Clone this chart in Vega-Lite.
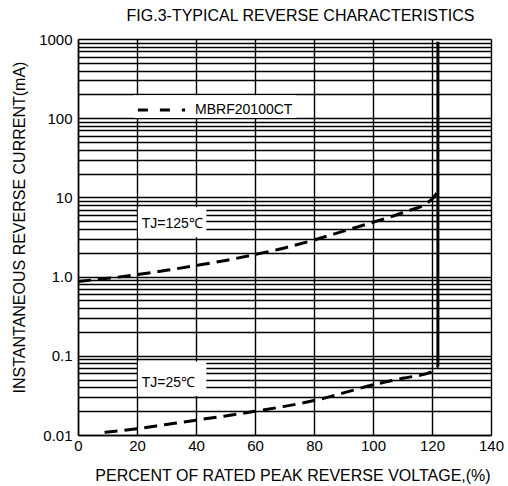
{
  "$schema": "https://vega.github.io/schema/vega-lite/v6.json",
  "width": 413,
  "height": 396,
  "autosize": "none",
  "padding": {"left": 78, "top": 39, "right": 17, "bottom": 51},
  "background": "white",
  "config": {
    "view": {"stroke": null},
    "font": "Liberation Sans",
    "axis": {"labelFont": "Liberation Sans", "titleFont": "Liberation Sans", "labelColor": "#000", "titleColor": "#000", "titleFontWeight": "normal"}
  },
  "title": {
    "text": "FIG.3-TYPICAL REVERSE CHARACTERISTICS",
    "font": "Liberation Sans",
    "fontSize": 16,
    "fontWeight": "normal",
    "color": "#000",
    "anchor": "middle",
    "dx": 16,
    "offset": 8
  },
  "datasets": {
    "curves": [
      {"series": "125", "x": 0, "y": 0.87},
      {"series": "125", "x": 10, "y": 0.95},
      {"series": "125", "x": 20, "y": 1.06},
      {"series": "125", "x": 30, "y": 1.2},
      {"series": "125", "x": 40, "y": 1.38},
      {"series": "125", "x": 50, "y": 1.6},
      {"series": "125", "x": 60, "y": 1.9},
      {"series": "125", "x": 70, "y": 2.3},
      {"series": "125", "x": 80, "y": 2.9},
      {"series": "125", "x": 90, "y": 3.75},
      {"series": "125", "x": 100, "y": 4.85},
      {"series": "125", "x": 110, "y": 6.4},
      {"series": "125", "x": 120, "y": 9.5},
      {"series": "125", "x": 122, "y": 11.9},
      {"series": "25", "x": 9, "y": 0.0108},
      {"series": "25", "x": 20, "y": 0.012},
      {"series": "25", "x": 30, "y": 0.0136},
      {"series": "25", "x": 40, "y": 0.0154},
      {"series": "25", "x": 50, "y": 0.0174},
      {"series": "25", "x": 60, "y": 0.0199},
      {"series": "25", "x": 70, "y": 0.023},
      {"series": "25", "x": 80, "y": 0.0272},
      {"series": "25", "x": 90, "y": 0.034},
      {"series": "25", "x": 100, "y": 0.043},
      {"series": "25", "x": 110, "y": 0.052},
      {"series": "25", "x": 120, "y": 0.063},
      {"series": "25", "x": 122, "y": 0.073}
    ],
    "vertical": [{"x": 122, "y": 0.073, "y2": 920}],
    "boxes": [
      {"x": 19, "x2": 74, "y": 100.5, "y2": 195},
      {"x": 20.3, "x2": 43.5, "y": 3.15, "y2": 7.5},
      {"x": 20.3, "x2": 43.5, "y": 0.031, "y2": 0.085}
    ],
    "legendline": [
      {"x": 20.3, "y": 127},
      {"x": 36.3, "y": 127}
    ],
    "labels": [
      {"x": 39.7, "y": 127, "text": "MBRF20100CT"},
      {"x": 21.6, "y": 4.55, "text": "TJ=125℃"},
      {"x": 21.6, "y": 0.0459, "text": "TJ=25℃"}
    ]
  },
  "encoding": {
    "x": {
      "field": "x",
      "type": "quantitative",
      "scale": {"domain": [0, 140], "nice": false, "zero": false},
      "axis": {
        "values": [0, 20, 40, 60, 80, 100, 120, 140],
        "grid": true,
        "gridColor": "#000",
        "gridWidth": 1.4,
        "gridOpacity": 1,
        "ticks": false,
        "domainColor": "#000",
        "domainWidth": 1.5,
        "labelFontSize": 15,
        "labelPadding": 3,
        "labelFlush": false,
        "title": "PERCENT OF RATED PEAK REVERSE VOLTAGE,(%)",
        "titleFontSize": 16,
        "titleBaseline": "alphabetic",
        "titleX": 214.5,
        "titleY": 45
      }
    },
    "y": {
      "field": "y",
      "type": "quantitative",
      "scale": {"type": "log", "domain": [0.01, 1000], "nice": false},
      "axis": {
        "values": [0.01, 0.02, 0.03, 0.04, 0.05, 0.06, 0.07, 0.08, 0.09, 0.1, 0.2, 0.3, 0.4, 0.5, 0.6, 0.7, 0.8, 0.9, 1, 2, 3, 4, 5, 6, 7, 8, 9, 10, 20, 30, 40, 50, 60, 70, 80, 90, 100, 200, 300, 400, 500, 600, 700, 800, 900, 1000],
        "labelExpr": "datum.value == 1000 ? '1000' : datum.value == 100 ? '100' : datum.value == 10 ? '10' : datum.value == 1 ? '1.0' : datum.value == 0.1 ? '0.1' : datum.value == 0.01 ? '0.01' : ''",
        "grid": true,
        "gridColor": "#000",
        "gridWidth": 1.4,
        "gridOpacity": 1,
        "ticks": false,
        "domainColor": "#000",
        "domainWidth": 1.5,
        "labelFontSize": 15,
        "labelPadding": 6,
        "labelFlush": false,
        "labelOverlap": false,
        "title": "INSTANTANEOUS REVERSE CURRENT(mA)",
        "titleFontSize": 16,
        "titleAngle": 270,
        "titleBaseline": "alphabetic",
        "titleAlign": "center",
        "titleX": -54,
        "titleY": 188
      }
    }
  },
  "layer": [
    {
      "data": {"name": "boxes"},
      "mark": {"type": "rect", "color": "white", "opacity": 1},
      "encoding": {"x2": {"field": "x2"}, "y2": {"field": "y2"}}
    },
    {
      "data": {"name": "curves"},
      "mark": {"type": "line", "color": "#000", "strokeWidth": 3, "strokeDash": [13, 7], "interpolate": "monotone"},
      "encoding": {"detail": {"field": "series"}}
    },
    {
      "data": {"name": "vertical"},
      "mark": {"type": "rule", "color": "#000", "strokeWidth": 3},
      "encoding": {"y2": {"field": "y2"}}
    },
    {
      "data": {"name": "legendline"},
      "mark": {"type": "line", "color": "#000", "strokeWidth": 3, "strokeDash": [10, 12]},
      "encoding": {}
    },
    {
      "data": {"name": "labels"},
      "mark": {"type": "text", "align": "left", "baseline": "middle", "font": "Liberation Sans", "fontSize": 14, "color": "#000"},
      "encoding": {"text": {"field": "text"}}
    }
  ]
}
